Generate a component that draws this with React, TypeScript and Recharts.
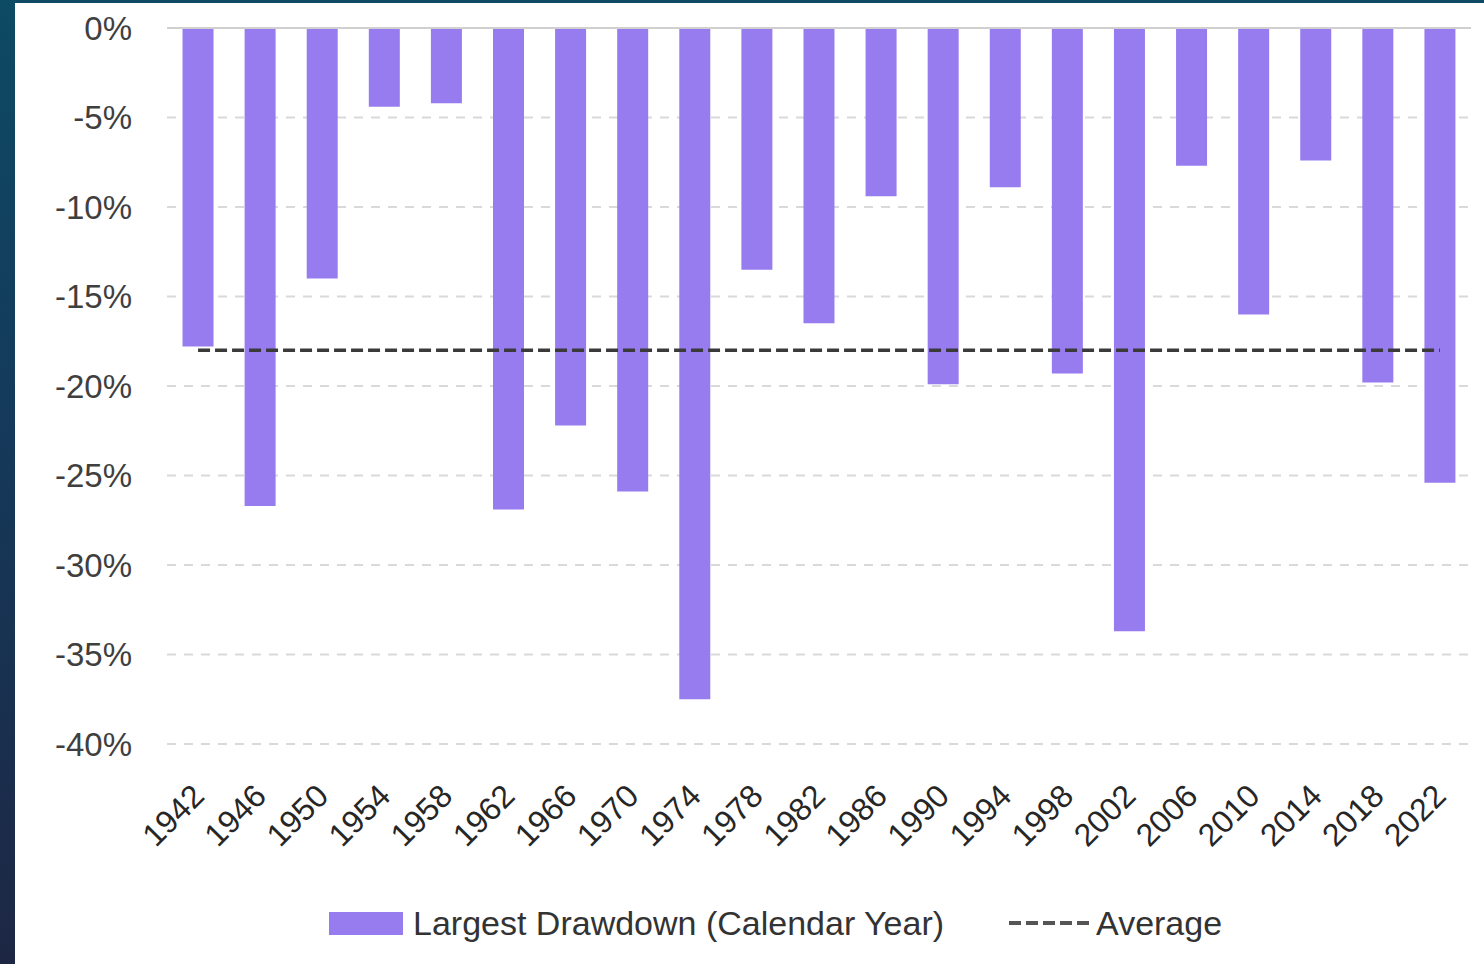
import React from "react";
import {
  ComposedChart,
  Bar,
  Line,
  XAxis,
  YAxis,
  CartesianGrid,
  Legend,
  ReferenceLine,
} from "recharts";

const years = [
  "1942", "1946", "1950", "1954", "1958", "1962", "1966", "1970", "1974", "1978", "1982",
  "1986", "1990", "1994", "1998", "2002", "2006", "2010", "2014", "2018", "2022",
];
const drawdowns = [
  -17.8, -26.7, -14.0, -4.4, -4.2, -26.9, -22.2, -25.9, -37.5, -13.5, -16.5,
  -9.4, -19.9, -8.9, -19.3, -33.7, -7.7, -16.0, -7.4, -19.8, -25.4,
];
const averageValue = -18.0;
const yTicks = [0, -5, -10, -15, -20, -25, -30, -35, -40];
const seriesNames = ["Largest Drawdown (Calendar Year)", "Average"];

const data = years.map((year, i) => ({
  year,
  drawdown: drawdowns[i],
  average: averageValue,
}));

const BAR_COLOR = "#977cf0";
const LINE_COLOR = "#3a3a3a";

const XTick = (props: any) => {
  const { x, y, payload } = props;
  const ax = x + 8;
  const ay = y + 54;
  return (
    <text
      x={ax}
      y={ay}
      transform={`rotate(-45, ${ax}, ${ay})`}
      textAnchor="end"
      fontSize={32}
      fontFamily="'Liberation Sans', Arial, sans-serif"
      fill="#262626"
    >
      {payload.value}
    </text>
  );
};

const LegendContent = () => (
  <div
    style={{
      display: "flex",
      alignItems: "center",
      height: 40,
      fontFamily: "'Liberation Sans', Arial, sans-serif",
      fontSize: 34,
      color: "#333333",
      whiteSpace: "nowrap",
    }}
  >
    <div style={{ width: 74, height: 23, background: BAR_COLOR, marginRight: 10 }} />
    <span>{seriesNames[0]}</span>
    <svg width={84} height={10} style={{ marginLeft: 64, marginRight: 4 }}>
      <line x1={1} y1={5} x2={84} y2={5} stroke="#555555" strokeWidth={4} strokeDasharray="12 5" />
    </svg>
    <span>{seriesNames[1]}</span>
  </div>
);

export default function App() {
  return (
    <div
      style={{
        position: "absolute",
        left: 0,
        top: 0,
        width: 1484,
        height: 964,
        background: "linear-gradient(180deg, #0d4a63 0%, #15395a 45%, #1d2744 100%)",
        overflow: "hidden",
      }}
    >
      <div
        style={{
          position: "absolute",
          left: 15,
          top: 3,
          width: 1469,
          height: 961,
          background: "#ffffff",
        }}
      >
        <ComposedChart
          width={1469}
          height={961}
          data={data}
          margin={{ top: 25, right: 13, bottom: 21, left: 0 }}
          barCategoryGap="25%"
        >
          <CartesianGrid
            vertical={false}
            stroke="#d9d9d9"
            strokeWidth={2}
            strokeDasharray="9 8"
          />
          <XAxis
            dataKey="year"
            axisLine={false}
            tickLine={false}
            tickSize={0}
            tickMargin={0}
            height={159}
            interval={0}
            tick={<XTick />}
          />
          <YAxis
            domain={[-40, 0]}
            ticks={yTicks}
            width={152}
            axisLine={false}
            tickLine={false}
            tickSize={0}
            tickMargin={35}
            tickFormatter={(v: number) => `${v}%`}
            tick={{ fontSize: 33, fill: "#3f3f3f", fontFamily: "'Liberation Sans', Arial, sans-serif" }}
          />
          <ReferenceLine y={0} stroke="#d0d0d0" strokeWidth={2} />
          <Bar dataKey="drawdown" name={seriesNames[0]} fill={BAR_COLOR} isAnimationActive={false} />
          <Line
            dataKey="average"
            name={seriesNames[1]}
            stroke={LINE_COLOR}
            strokeWidth={3.5}
            strokeDasharray="12 5"
            dot={false}
            activeDot={false}
            isAnimationActive={false}
          />
          <Legend
            verticalAlign="bottom"
            content={<LegendContent />}
            wrapperStyle={{ left: 314, width: "auto" }}
          />
        </ComposedChart>
      </div>
    </div>
  );
}
